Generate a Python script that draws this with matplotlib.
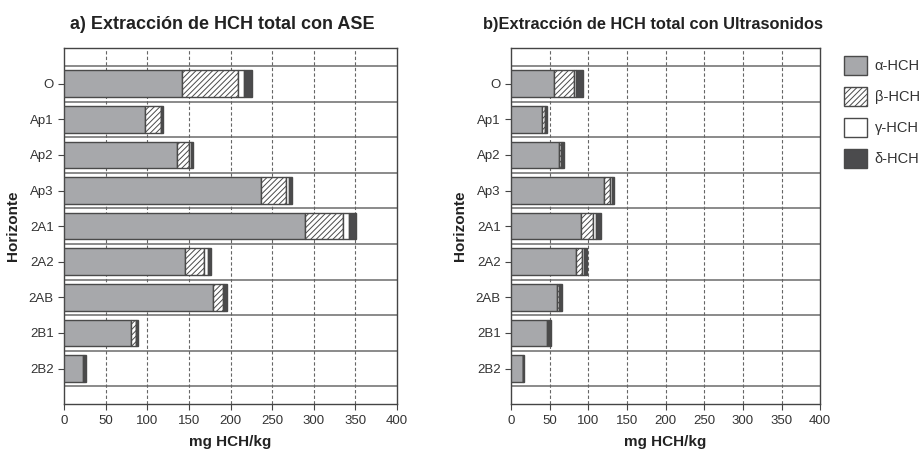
import matplotlib
matplotlib.use("Agg")
import matplotlib.pyplot as plt
import numpy as np
from matplotlib.patches import Patch

plt.rcParams["font.family"] = ["Liberation Sans", "DejaVu Sans"]
plt.rcParams["hatch.linewidth"] = 0.7

HORIZONS = ["O", "Ap1", "Ap2", "Ap3", "2A1", "2A2", "2AB", "2B1", "2B2"]
ISOMERS = ["α-HCH", "β-HCH", "γ-HCH", "δ-HCH"]

# a) ASE, mg HCH/kg per isomer
ase_alpha = [142, 97, 136, 237, 289, 145, 179, 80, 23]
ase_beta = [67, 19, 14, 29, 46, 23, 12, 6, 1.5]
ase_gamma = [7, 1, 2, 4, 7, 5, 1.5, 0.5, 0]
ase_delta = [10, 2, 2.5, 3.5, 9, 4, 3, 2.5, 1.5]

# b) Ultrasonidos
us_alpha = [55.5, 39.5, 61.5, 120, 90.5, 83.5, 59.5, 47, 15]
us_beta = [26, 4.5, 3.5, 8.5, 16, 8, 2, 1, 0]
us_gamma = [3, 0.5, 0.5, 2, 4, 3, 2, 0.5, 0]
us_delta = [8, 1.5, 3, 2.5, 6, 4, 3, 3, 2]

FACE = ["#a7a8ab", "white", "white", "#4b4b4d"]
HATCH = [None, "//////", None, None]
EDGE = "#4a4a4a"

xticks = np.arange(0, 401, 50)


def panel(ax, series, title, title_size, title_x):
    y = np.arange(len(HORIZONS))
    left = np.zeros(len(HORIZONS))
    for vals, fc, h in zip(series, FACE, HATCH):
        vals = np.array(vals, dtype=float)
        ax.barh(y, vals, left=left, height=0.75, color=fc, hatch=h,
                edgecolor=EDGE, linewidth=1.0, zorder=3)
        left += vals
    ax.set_ylim(9, -1)
    ax.set_xlim(0, 400)
    ax.set_yticks(y)
    ax.set_yticklabels(HORIZONS, fontsize=9.5, color="#333333")
    ax.set_xticks(xticks)
    ax.set_xticklabels([str(t) for t in xticks], fontsize=9.5, color="#333333")
    for b in np.arange(-0.5, 9, 1.0):
        ax.axhline(b, color="#8a8a8a", lw=1.4, zorder=1)
    for t in xticks[1:-1]:
        ax.axvline(t, color="#666666", lw=0.8, ls=(0, (3, 2)), zorder=1)
    ax.tick_params(axis="both", length=4, color="#444444")
    for s in ax.spines.values():
        s.set_color("#444444")
        s.set_linewidth(1.0)
    ax.set_xlabel("mg HCH/kg", fontsize=11, fontweight="bold", color="#222222", labelpad=6)
    ax.set_ylabel("Horizonte", fontsize=11, fontweight="bold", color="#222222", labelpad=6)
    ax.set_title(title, fontsize=title_size, fontweight="bold", color="#222222",
                 pad=14, x=title_x)


fig = plt.figure(figsize=(9.2, 4.5), dpi=100)
ax1 = fig.add_axes([0.0696, 0.102, 0.362, 0.791])
ax2 = fig.add_axes([0.5555, 0.102, 0.336, 0.791])

panel(ax1, [ase_alpha, ase_beta, ase_gamma, ase_delta],
      "a) Extracción de HCH total con ASE", 13, 0.475)
panel(ax2, [us_alpha, us_beta, us_gamma, us_delta],
      "b)Extracción de HCH total con Ultrasonidos", 11.8, 0.46)

handles = [Patch(facecolor=fc, edgecolor=EDGE, hatch=h, label=l)
           for fc, h, l in zip(FACE, HATCH, ISOMERS)]
fig.legend(handles=handles, loc="upper left", bbox_to_anchor=(0.903, 0.905),
           frameon=False, fontsize=10.5, handlelength=1.6, handleheight=1.6,
           labelspacing=0.85, handletextpad=0.5, labelcolor="#333333")

fig.savefig("out.png", dpi=100)
